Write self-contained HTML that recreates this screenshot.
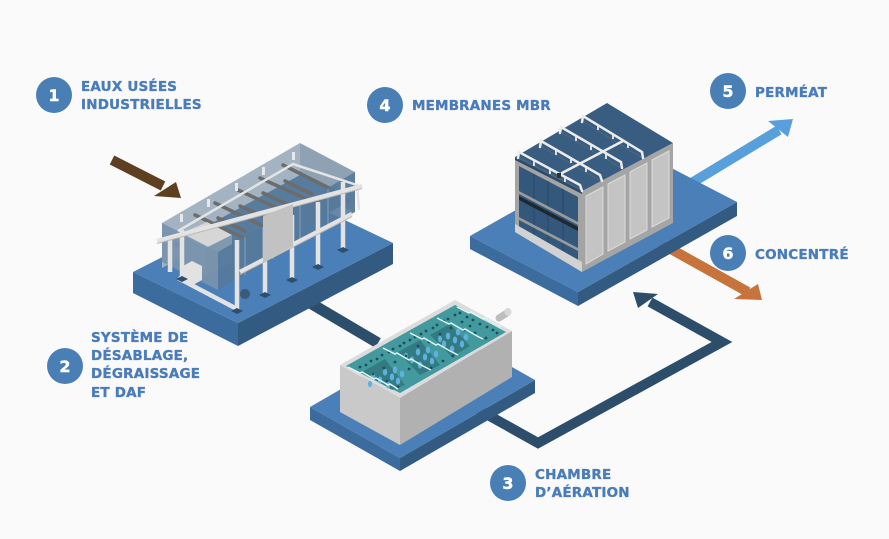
<!DOCTYPE html>
<html><head><meta charset="utf-8"><style>
html,body{margin:0;padding:0;background:#fafafb;}
svg{display:block}
</style></head><body>
<svg width="889" height="539" viewBox="0 0 889 539" xmlns="http://www.w3.org/2000/svg">
<rect width="889" height="539" fill="#fafafb"/>

<!-- connectors (under platforms) -->
<line x1="300" y1="297" x2="378" y2="343" stroke="#2c4e6b" stroke-width="11"/>
<polyline points="470,405 538,443 722,342 650,302" fill="none" stroke="#2c4e6b" stroke-width="10" stroke-linejoin="miter"/>
<polygon points="633,292 658,294 638,308" fill="#2c4e6b"/>

<!-- permeat & concentre arrows -->
<line x1="680" y1="190" x2="779" y2="130" stroke="#58a0db" stroke-width="10"/>
<polygon points="793,119 768,121 788,137" fill="#58a0db"/>
<line x1="660" y1="243" x2="748" y2="292" stroke="#c8733b" stroke-width="10"/>
<polygon points="762,300 734,299 758,284" fill="#c8733b"/>

<!-- input brown arrow -->
<line x1="112" y1="160" x2="163" y2="186" stroke="#5e3f1f" stroke-width="10"/>
<polygon points="181,198 154,196 176,182" fill="#5e3f1f"/>

<!-- LEFT PLATFORM -->
<polygon points="133,272 238,323 238,346 133,293" fill="#3b6c9d"/>
<polygon points="238,323 393,243 393,264 238,346" fill="#335a80"/>
<polygon points="133,272 288,193 393,243 238,323" fill="#4a7fb8"/>

<!-- DAF tank -->
<polygon points="162,223 300,143 300,190 162,268" fill="#a3b3c1"/>
<polygon points="300,143 355,172 355,212 300,190" fill="#8ea2b4"/>
<polygon points="172,245 300,175 352,200 222,272" fill="#587c9d"/>
<!-- dark rails -->
<g stroke="#6c6c6c" stroke-width="3.5" stroke-linecap="round">
<line x1="195" y1="215" x2="248" y2="240"/>
<line x1="215" y1="203" x2="267" y2="228"/>
<line x1="238" y1="190" x2="290" y2="214"/>
<line x1="260" y1="178" x2="313" y2="202"/>
<line x1="283" y1="165" x2="333" y2="190"/>
<line x1="218" y1="218" x2="245" y2="231"/>
<line x1="240" y1="206" x2="268" y2="219"/>
<line x1="263" y1="193" x2="291" y2="206"/>
<line x1="285" y1="181" x2="312" y2="194"/>
</g>
<!-- light block at left end -->
<polygon points="180,234 207,222 232,235 206,248" fill="#d6d6d6"/>
<polygon points="180,234 206,248 206,276 180,262" fill="#9fb3c4"/>
<polygon points="206,248 232,235 232,262 206,276" fill="#7f99b0"/>
<!-- front translucent wall -->
<polygon points="218,252 355,172 355,212 218,290" fill="#557a9c" opacity="0.9"/>
<polygon points="162,223 218,252 218,290 162,262" fill="#7893ac" opacity="0.92"/>
<g stroke="#86a0b6" stroke-width="1">
<line x1="245" y1="237" x2="245" y2="275"/><line x1="273" y1="221" x2="273" y2="259"/>
<line x1="300" y1="205" x2="300" y2="243"/><line x1="328" y1="189" x2="328" y2="227"/>
</g>
<!-- back rail -->
<polyline points="178,231 293,164 357,185 359,210" fill="none" stroke="#e4e4e4" stroke-width="2.5"/>
<g fill="#e8e8e8"><rect x="180" y="214" width="3" height="8"/><rect x="207" y="199" width="3" height="8"/><rect x="235" y="183" width="3" height="8"/><rect x="262" y="167" width="3" height="8"/><rect x="292" y="152" width="3" height="8"/></g>
<!-- white motor box -->
<polygon points="183,266 192,261 202,266 202,280 193,285 183,279" fill="#e2e2e2"/>
<circle cx="245" cy="294" r="5" fill="#3b5a78"/>
<!-- frame -->
<g stroke="#e3e3e3" stroke-width="4.5" stroke-linecap="butt">
<line x1="157" y1="241" x2="362" y2="186"/>
<line x1="240" y1="272" x2="352" y2="214"/>
<line x1="178" y1="278" x2="237" y2="309"/>
<line x1="182" y1="230" x2="182" y2="278"/>
<line x1="170" y1="236" x2="170" y2="272"/>
<line x1="237" y1="240" x2="237" y2="311"/>
<line x1="265" y1="227" x2="265" y2="294"/>
<line x1="292" y1="215" x2="292" y2="279"/>
<line x1="318" y1="202" x2="318" y2="266"/>
<line x1="343" y1="182" x2="343" y2="249"/>
</g>
<g stroke="#b9b9b9" stroke-width="1">
<line x1="157" y1="243.5" x2="362" y2="188.5"/>
<line x1="240" y1="274.5" x2="352" y2="216.5"/>
</g>
<polygon points="263,216 293,204 293,246 263,262" fill="#c2c2c2"/>
<g fill="#2f4e6a">
<polygon points="231,311 237,308 243,311 237,314"/>
<polygon points="259,295 265,292 271,295 265,298"/>
<polygon points="286,280 292,277 298,280 292,283"/>
<polygon points="312,267 318,264 324,267 318,270"/>
<polygon points="337,250 343,247 349,250 343,253"/>
<polygon points="176,279 182,276 188,279 182,282"/>
</g>

<!-- MIDDLE PLATFORM -->
<polygon points="310,407 400,458 400,471 310,420" fill="#3b6c9d"/>
<polygon points="400,458 535,380 535,393 400,471" fill="#335a80"/>
<polygon points="310,407 445,329 535,380 400,458" fill="#4a7fb8"/>

<!-- Aeration tank -->
<polygon points="340,365 400,398 400,445 340,412" fill="#c9c9c9"/>
<polygon points="400,398 512,331 512,377 400,445" fill="#b1b1b1"/>
<polygon points="340,365 455,300 512,331 400,398" fill="#dcdcdc"/>
<polygon points="346,366 455,305 506,332 400,393" fill="#429a9f"/>
<!-- darker front areas -->
<g fill="#2f747c" opacity="0.8">
<polygon points="362,372 385,359 405,385 392,390"/>
<polygon points="398,352 420,340 440,365 420,375"/>
<polygon points="430,335 450,324 470,346 452,357"/>
</g>
<!-- bubbles -->
<g fill="#5fb0dc">
<ellipse cx="385" cy="372" rx="2.2" ry="3.5"/><ellipse cx="392" cy="377" rx="2.2" ry="3.5"/><ellipse cx="380" cy="380" rx="2.2" ry="3.5"/><ellipse cx="388" cy="385" rx="2.2" ry="3.5"/><ellipse cx="398" cy="381" rx="2.2" ry="3.5"/><ellipse cx="373" cy="376" rx="2.2" ry="3.5"/><ellipse cx="395" cy="370" rx="2.2" ry="3.5"/><ellipse cx="402" cy="374" rx="2.2" ry="3.5"/><ellipse cx="370" cy="384" rx="2" ry="3.2"/>
<ellipse cx="418" cy="352" rx="2.2" ry="3.5"/><ellipse cx="425" cy="357" rx="2.2" ry="3.5"/><ellipse cx="432" cy="361" rx="2.2" ry="3.5"/><ellipse cx="412" cy="360" rx="2.2" ry="3.5"/><ellipse cx="420" cy="365" rx="2.2" ry="3.5"/><ellipse cx="428" cy="350" rx="2.2" ry="3.5"/><ellipse cx="436" cy="354" rx="2.2" ry="3.5"/><ellipse cx="406" cy="356" rx="2" ry="3.2"/>
<ellipse cx="448" cy="336" rx="2.2" ry="3.5"/><ellipse cx="455" cy="340" rx="2.2" ry="3.5"/><ellipse cx="462" cy="344" rx="2.2" ry="3.5"/><ellipse cx="444" cy="344" rx="2.2" ry="3.5"/><ellipse cx="452" cy="349" rx="2.2" ry="3.5"/><ellipse cx="458" cy="332" rx="2.2" ry="3.5"/><ellipse cx="466" cy="337" rx="2.2" ry="3.5"/><ellipse cx="440" cy="339" rx="2" ry="3.2"/>
</g>
<!-- dots -->
<g fill="#1f4e58">
<circle cx="360" cy="367" r="1.4"/><circle cx="373" cy="374" r="1.4"/><circle cx="387" cy="381" r="1.4"/>
<circle cx="371" cy="361" r="1.4"/><circle cx="384" cy="368" r="1.4"/><circle cx="366" cy="365" r="1.4"/>
<circle cx="382" cy="355" r="1.4"/><circle cx="395" cy="362" r="1.4"/><circle cx="377" cy="359" r="1.4"/>
<circle cx="393" cy="349" r="1.4"/><circle cx="406" cy="356" r="1.4"/><circle cx="389" cy="352" r="1.4"/><circle cx="400" cy="346" r="1.4"/>
<circle cx="404" cy="343" r="1.4"/><circle cx="418" cy="346" r="1.4"/><circle cx="410" cy="340" r="1.4"/>
<circle cx="415" cy="337" r="1.4"/><circle cx="429" cy="342" r="1.4"/><circle cx="421" cy="334" r="1.4"/>
<circle cx="426" cy="331" r="1.4"/><circle cx="440" cy="334" r="1.4"/><circle cx="433" cy="328" r="1.4"/>
<circle cx="437" cy="325" r="1.4"/><circle cx="451" cy="328" r="1.4"/><circle cx="444" cy="321" r="1.4"/>
<circle cx="448" cy="319" r="1.4"/><circle cx="462" cy="322" r="1.4"/><circle cx="455" cy="315" r="1.4"/>
<circle cx="460" cy="313" r="1.4"/><circle cx="473" cy="320" r="1.4"/><circle cx="487" cy="327" r="1.4"/>
<circle cx="467" cy="317" r="1.4"/><circle cx="480" cy="324" r="1.4"/><circle cx="493" cy="330" r="1.4"/>
<circle cx="475" cy="333" r="1.4"/><circle cx="486" cy="338" r="1.4"/><circle cx="497" cy="333" r="1.4"/>
<circle cx="464" cy="330" r="1.4"/><circle cx="470" cy="326" r="1.4"/>
<circle cx="398" cy="387" r="1.4"/><circle cx="409" cy="369" r="1.4"/><circle cx="443" cy="361" r="1.4"/><circle cx="453" cy="356" r="1.4"/><circle cx="431" cy="368" r="1.4"/>
</g>
<!-- white dividers -->
<g fill="none" stroke="#dff6f6" stroke-width="1.5">
<path d="M348,367 l12,6 l2,-1 l12,7 l2,-1 l12,7 l2,-1 l8,5"/>
<path d="M383,348 l12,6 l2,-1 l12,7 l2,-1 l12,7 l8,4"/>
<path d="M410,333 l12,6 l2,-1 l12,7 l2,-1 l12,7 l8,4"/>
<path d="M437,318 l12,6 l2,-1 l12,7 l2,-1 l12,7 l6,3"/>
<path d="M457,307 l12,6 l2,-1 l12,7 l2,-1 l12,7 l4,2"/>
</g>
<!-- pipe -->
<line x1="499" y1="318" x2="507" y2="313" stroke="#bdbdbd" stroke-width="7" stroke-linecap="round"/>
<ellipse cx="508" cy="312" rx="3.5" ry="4" fill="#d8d8d8"/>

<!-- RIGHT PLATFORM -->
<polygon points="470,236 578,292 578,306 470,249" fill="#3b6c9d"/>
<polygon points="578,292 737,202 737,216 578,306" fill="#335a80"/>
<polygon points="470,236 629,146 737,202 578,292" fill="#4a7fb8"/>

<!-- MBR unit -->
<polygon points="515,157 582,191 582,272 515,232" fill="#a4a4a4"/>
<polygon points="519,166 578,197 578,262 519,228" fill="#33587b"/>
<g stroke="#27476a" stroke-width="1">
<line x1="534" y1="174" x2="534" y2="237"/><line x1="548" y1="181" x2="548" y2="245"/><line x1="563" y1="189" x2="563" y2="254"/>
</g>
<polygon points="519,196 578,227 578,231 519,200" fill="#1e2832"/>
<polygon points="519,191 578,222 578,225 519,194" fill="#9a9a9a"/>
<polygon points="519,217 578,248 578,251 519,220" fill="#9a9a9a"/>
<polygon points="515,224 582,262 582,272 515,232" fill="#d2d2d2"/>
<polygon points="582,191 673,143 673,223 582,272" fill="#a5a5a5"/>
<g fill="#c4c4c4" stroke="#dcdcdc" stroke-width="1">
<polygon points="586,196 603,187 603,254 586,264"/>
<polygon points="608,184 625,175 625,242 608,251"/>
<polygon points="630,172 647,163 647,230 630,239"/>
<polygon points="652,160 669,151 669,218 652,227"/>
</g>
<polygon points="515,157 607,103 673,143 582,191" fill="#395d80"/>
<polygon points="515,157 582,191 582,194 515,160" fill="#2c4b69"/>
<!-- rails on top -->
<g stroke="#5a6d80" stroke-width="1" opacity="0.7">
<line x1="520" y1="158" x2="583" y2="191"/><line x1="542" y1="147" x2="603" y2="182"/><line x1="562" y1="133" x2="623" y2="169"/><line x1="584" y1="122" x2="644" y2="159"/>
</g>
<g stroke="#ececec" stroke-width="2.5" fill="none" stroke-linecap="round">
<path d="M518,158 L519,152 L580,185 L582,191"/>
<path d="M540,147 L541,141 L600,175 L602,181"/>
<path d="M560,133 L561,127 L621,162 L622,168"/>
<path d="M582,122 L583,116 L642,152 L643,158"/>
<line x1="562" y1="173" x2="623" y2="141"/>
</g>
<g stroke="#ececec" stroke-width="1.8">
<line x1="534" y1="161" x2="534" y2="166"/><line x1="550" y1="169" x2="550" y2="174"/><line x1="565" y1="177" x2="565" y2="182"/>
<line x1="556" y1="150" x2="556" y2="155"/><line x1="571" y1="158" x2="571" y2="163"/><line x1="586" y1="167" x2="586" y2="172"/>
<line x1="576" y1="136" x2="576" y2="141"/><line x1="591" y1="145" x2="591" y2="150"/><line x1="606" y1="154" x2="606" y2="159"/>
<line x1="598" y1="125" x2="598" y2="130"/><line x1="613" y1="134" x2="613" y2="139"/><line x1="628" y1="143" x2="628" y2="148"/>
</g>
<rect x="557" y="173" width="4" height="5" fill="#333"/>

<!-- LABELS -->
<g font-family="DejaVu Sans, Liberation Sans, sans-serif" font-weight="700">
<g fill="#4a7fb5">
<circle cx="54" cy="95" r="18"/><circle cx="65" cy="366" r="18"/><circle cx="508" cy="483" r="18"/>
<circle cx="385" cy="105" r="18"/><circle cx="728" cy="91" r="18"/><circle cx="728" cy="253" r="18"/>
</g>
<g fill="#ffffff" stroke="#ffffff" stroke-width="0.4" font-size="16" text-anchor="middle">
<text x="54" y="101">1</text><text x="65" y="372">2</text><text x="508" y="489">3</text>
<text x="385" y="111">4</text><text x="728" y="97">5</text><text x="728" y="259">6</text>
</g>
<g fill="#4a7cba" stroke="#4a7cba" stroke-width="0.35" font-size="13.5" letter-spacing="0.2">
<text x="81" y="91">EAUX USÉES</text><text x="81" y="109">INDUSTRIELLES</text>
<text x="91" y="342">SYSTÈME DE</text><text x="91" y="360">DÉSABLAGE,</text><text x="91" y="378">DÉGRAISSAGE</text><text x="91" y="397">ET DAF</text>
<text x="535" y="479">CHAMBRE</text><text x="535" y="497">D’AÉRATION</text>
<text x="412" y="110">MEMBRANES MBR</text>
<text x="755" y="97">PERMÉAT</text>
<text x="755" y="259">CONCENTRÉ</text>
</g>
</g>
</svg>
</body></html>
